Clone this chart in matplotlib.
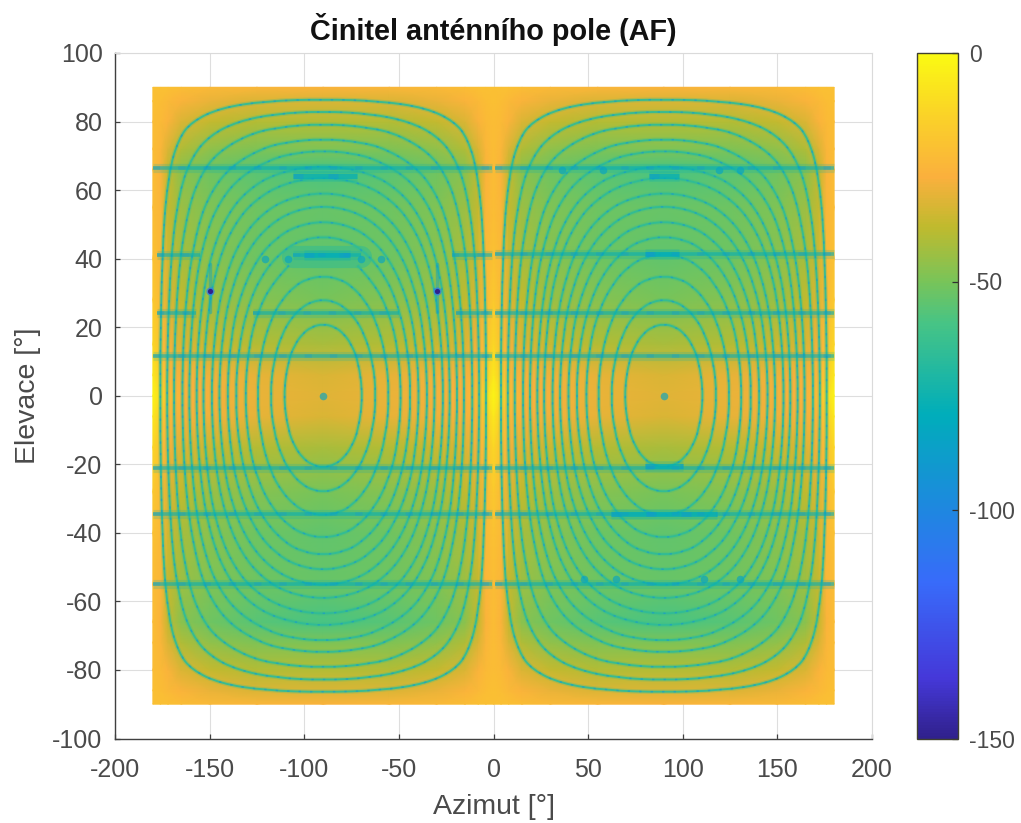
"""Činitel anténního pole (AF) - hodnoty odečtené z obrázku."""
import numpy as np
import matplotlib
matplotlib.use("Agg")
import matplotlib.pyplot as plt
from matplotlib.colors import LinearSegmentedColormap, Normalize
from matplotlib.patches import PathPatch
from matplotlib.path import Path

plt.rcParams["font.family"] = ["Liberation Sans", "DejaVu Sans"]
plt.rcParams["axes.unicode_minus"] = False

# background level between the nulls, one quadrant of a lobe (dB)
bg_az = [0, 4, 8, 15, 30, 55, 90]
bg_el = [0, 6, 15, 28, 40, 55, 66, 72, 80, 86, 90]
bg_el0 = [-2, -12, -22, -26, -28, -30, -32]
bg_el6 = [-6, -17, -25, -28, -29, -31, -33]
bg_el15 = [-12, -21, -28, -33, -36, -40, -42]
bg_el28 = [-17, -23, -33, -38, -44, -48, -50]
bg_el40 = [-20, -24, -35, -42, -47, -52, -54]
bg_el55 = [-22, -25, -37, -44, -49, -52, -53]
bg_el66 = [-22, -26, -37, -47, -52, -56, -59]
bg_el72 = [-22, -25, -33, -41, -46, -49, -49]
bg_el80 = [-22, -23, -26, -33, -37, -40, -40]
bg_el86 = [-21, -22, -24, -26, -30, -33, -33]
bg_el90 = [-21, -21, -21, -22, -24, -25, -26]

# null rings: elevation and azimuth offset from the lobe centre
ring_el = [
    [0, 10, 15, 18, 20, 21],
    [0, 10, 18, 23, 26, 27.5, 28],
    [0, 12, 22, 28, 32, 34, 35],
    [0, 15, 25, 33, 38, 40.5, 41.5],
    [0, 15, 28, 37, 43, 45.5, 46.5],
    [0, 18, 30, 40, 46, 49.5, 51],
    [0, 20, 33, 43, 50, 54, 55.5],
    [0, 22, 36, 46, 53, 57.5, 59.5],
    [0, 25, 40, 50, 57, 62, 64],
    [0, 25, 42, 53, 60, 65, 67.5],
    [0, 30, 47, 57, 64, 69, 70.8, 71.5],
    [0, 30, 50, 60, 67, 72, 74, 75],
    [0, 35, 55, 65, 71, 76, 78.3, 79.4],
    [0, 40, 60, 70, 76, 80, 82.3, 83],
    [0, 45, 65, 75, 80, 84, 86, 86.5],
]
ring_off = [
    [21, 18.6, 14.9, 11, 6.5, 0],
    [28, 26.3, 21.8, 16.4, 10.8, 5.5, 0],
    [35, 33.1, 27.9, 21.9, 15, 8.9, 0],
    [41.5, 39.2, 34.3, 26.7, 18.1, 9.9, 0],
    [46.5, 44.5, 38.8, 30.4, 19.8, 10.9, 0],
    [51, 48.6, 43.4, 34.8, 25, 14.3, 0],
    [55.5, 52.9, 47.5, 39.3, 28.2, 15.5, 0],
    [59.5, 56.8, 51.1, 43.1, 32.5, 19.2, 0],
    [64, 61.1, 55.1, 47, 36.4, 21, 0],
    [67.5, 65, 59, 50.5, 40, 25, 0],
    [71.5, 68.5, 62.3, 54.4, 43.6, 27.7, 15, 0],
    [75, 72.6, 66.3, 58.8, 48.5, 33.1, 20, 0],
    [79.4, 77, 71.3, 64.2, 55.6, 40.5, 25, 0],
    [83, 80.8, 75.9, 69.1, 59.7, 45.4, 25, 0],
    [86.5, 85, 81.7, 76.4, 69.4, 54.3, 30, 0],
]
# ring no. 4 breaks up above this elevation in the left lobe
left_broken_ring = 3
left_broken_keep = 5

# horizontal null bands
band_el_full = [66.5, 11.5, -21, -34.5, -55]
band_el_right = [41.5, 24]
band_41_left = [(-178, -155), (-106, -70), (-22, -1)]
band_24_left = [(-178, -157), (-127, -50), (-20, -1)]

# broader spots along the bands
thick_left = [(-106, -72, 64), (-100, -76, 41)]
thick_right = [(82, 98, 64), (62, 118, -34.5), (80, 98, 41.5), (80, 100, -20.5)]
patch_az = [-106, -70]
patch_el = [40.5, 40.5]
blob_az = [36, 58, 119, 130, 47.6, 64.6, 111, 130, -90, 90, -121, -108.6, -70, -59.5]
blob_el = [66, 66, 66, 66, -53.5, -53.5, -53.5, -53.5, 0, 0, 40, 40, 40, 40]
deep_az = [-150, -30]
deep_el = [30.5, 30.5]

x_ticks = [-200, -150, -100, -50, 0, 50, 100, 150, 200]
y_ticks = [-100, -80, -60, -40, -20, 0, 20, 40, 60, 80, 100]
cbar_ticks = [0, -50, -100, -150]

parula = LinearSegmentedColormap.from_list("parula", [
    (0.000, (0.19, 0.13, 0.55)),
    (0.087, (0.27, 0.22, 0.85)),
    (0.227, (0.22, 0.42, 0.98)),
    (0.333, (0.12, 0.53, 0.88)),
    (0.473, (0.00, 0.68, 0.73)),
    (0.607, (0.28, 0.77, 0.52)),
    (0.667, (0.47, 0.77, 0.35)),
    (0.747, (0.75, 0.73, 0.18)),
    (0.820, (0.98, 0.69, 0.24)),
    (0.907, (0.98, 0.82, 0.16)),
    (1.000, (0.98, 0.98, 0.07)),
])
norm = Normalize(-150, 0)


def smooth_path(xs, ys, closed):
    """Quadratic curve with the read points as control vertices."""
    v = np.column_stack([xs, ys])
    if closed:
        start = (v[-1] + v[0]) / 2
        verts, codes = [start], [Path.MOVETO]
        for i in range(len(v)):
            verts += [v[i], (v[i] + v[(i + 1) % len(v)]) / 2]
            codes += [Path.CURVE3, Path.CURVE3]
    else:
        verts, codes = [v[0]], [Path.MOVETO]
        for i in range(1, len(v) - 1):
            end = v[i + 1] if i == len(v) - 2 else (v[i] + v[i + 1]) / 2
            verts += [v[i], end]
            codes += [Path.CURVE3, Path.CURVE3]
    return Path(np.array(verts), codes)


def draw_ring(ax, path, col, dot_col):
    ax.add_patch(PathPatch(path, fc="none", ec=col, lw=3.2, alpha=0.25, zorder=3))
    ax.add_patch(PathPatch(path, fc="none", ec=col, lw=1.4, alpha=0.9, zorder=3.1))
    ax.add_patch(PathPatch(path, fc="none", ec=dot_col, lw=1.1, alpha=0.5,
                           ls=(0, (1.5, 6)), zorder=3.2))


def main():
    fig = plt.figure(figsize=(10.21, 8.23), dpi=100)
    ax = fig.add_axes([115 / 1021, (823 - 738.5) / 823, 757 / 1021, 685.5 / 823])
    cax = fig.add_axes([917 / 1021, (823 - 738.5) / 823, 41 / 1021, 685.5 / 823])

    # background, mirrored from the read quadrant
    half = np.array([bg_el0, bg_el6, bg_el15, bg_el28, bg_el40, bg_el55,
                     bg_el66, bg_el72, bg_el80, bg_el86, bg_el90], dtype=float)
    az_pos = np.array(bg_az, dtype=float)
    az_lobe = np.r_[az_pos, 180 - az_pos[-2::-1]]
    z_lobe = np.c_[half, half[:, -2::-1]]
    az_all = np.r_[-az_lobe[:0:-1], az_lobe]
    z_az = np.c_[z_lobe[:, :0:-1], z_lobe]
    el_pos = np.array(bg_el, dtype=float)
    el_all = np.r_[-el_pos[:0:-1], el_pos]
    z_all = np.r_[z_az[:0:-1], z_az]
    mesh = ax.pcolormesh(az_all, el_all, z_all, cmap=parula, norm=norm,
                         shading="gouraud", zorder=2)

    ring_col = parula(norm(-66))
    dot_col = parula(norm(-95))
    band_col = parula(norm(-78))

    for k, (els, offs) in enumerate(zip(ring_el, ring_off)):
        e = np.array(els, dtype=float)
        o = np.array(offs, dtype=float)
        # going round one ring: upper right, upper left, lower left, lower right
        loop_o = np.r_[o, -o[-2::-1], -o[1:], o[-2:0:-1]]
        loop_e = np.r_[e, e[-2::-1], -e[1:], -e[-2:0:-1]]
        draw_ring(ax, smooth_path(90 + loop_o, loop_e, True), ring_col, dot_col)
        if k == left_broken_ring:
            m = left_broken_keep
            o2 = np.r_[-o[m - 1:0:-1], -o[0], -o[1:], o[-2::-1], o[1:m]]
            e2 = np.r_[e[m - 1:0:-1], 0, -e[1:], -e[-2::-1], e[1:m]]
            draw_ring(ax, smooth_path(-90 + o2, e2, False), ring_col, dot_col)
        else:
            draw_ring(ax, smooth_path(-90 + loop_o, loop_e, True), ring_col, dot_col)

    def band(x0, x1, el, lw=2.6, alpha=0.55):
        ax.plot([x0, x1], [el, el], color=band_col, lw=lw + 4, alpha=alpha * 0.35,
                solid_capstyle="butt", zorder=4)
        ax.plot([x0, x1], [el, el], color=band_col, lw=lw, alpha=alpha,
                solid_capstyle="butt", zorder=4.1)
        ax.plot([x0, x1], [el, el], color=dot_col, lw=lw, alpha=alpha * 0.45,
                ls=(0, (2, 5)), zorder=4.2)

    for el in band_el_full:
        band(-180, -1, el)
        band(1, 180, el)
    for el in band_el_right:
        band(1, 180, el)
    for x0, x1 in band_41_left:
        band(x0, x1, 41)
    for x0, x1 in band_24_left:
        band(x0, x1, 24)
    for x0, x1, el in thick_left + thick_right:
        band(x0, x1, el, lw=3.6, alpha=0.65)

    # wide patch where ring no. 4 dissolves in the left lobe
    ax.plot(patch_az, patch_el, color=parula(norm(-68)), lw=16, alpha=0.45,
            solid_capstyle="round", zorder=2.9)

    ax.scatter(blob_az, blob_el, s=30, color=parula(norm(-84)), alpha=0.65,
               linewidths=0, zorder=4.3)
    for az, el in zip(deep_az, deep_el):
        ax.plot([az, az], [el - 6, el + 8], color=parula(norm(-85)), lw=2.5,
                alpha=0.45, solid_capstyle="round", zorder=4.4)
    ax.scatter(deep_az, deep_el, s=34, color=parula(norm(-110)), alpha=0.7,
               linewidths=0, zorder=4.5)
    ax.scatter(deep_az, deep_el, s=14, color=parula(norm(-150)),
               linewidths=0, zorder=4.6)

    ax.set_xlim(-200, 200)
    ax.set_ylim(-100, 100)
    ax.set_xticks(x_ticks)
    ax.set_yticks(y_ticks)
    ax.grid(True, color="#dedede", lw=0.8, zorder=1)
    ax.set_axisbelow(True)
    ax.tick_params(axis="x", direction="in", length=3.6, width=0.9, color="#404040",
                   labelcolor="#4a4a4a", labelsize=18, pad=14)
    ax.tick_params(axis="y", direction="in", length=3.6, width=0.9, color="#404040",
                   labelcolor="#4a4a4a", labelsize=18, pad=9)
    for side, sp in ax.spines.items():
        sp.set_linewidth(1.0 if side in ("left", "bottom") else 0.8)
        sp.set_color("#404040" if side in ("left", "bottom") else "#dadada")
    ax.set_title("Činitel anténního pole (AF)", fontsize=20.8, fontweight="bold",
                 color="#111111", pad=9)
    ax.set_xlabel("Azimut [°]", fontsize=20.5, color="#4a4a4a", labelpad=9)
    ax.set_ylabel("Elevace [°]", fontsize=20.5, color="#4a4a4a", labelpad=8)

    cb = fig.colorbar(mesh, cax=cax)
    cb.set_ticks(cbar_ticks)
    cb.ax.tick_params(direction="in", length=4, width=0.9, color="#303030",
                      labelcolor="#4a4a4a", labelsize=16.5, pad=8)
    cb.outline.set_linewidth(1.0)
    cb.outline.set_edgecolor("#404030")

    fig.savefig("out.png", dpi=100)
    plt.close(fig)


if __name__ == "__main__":
    main()
